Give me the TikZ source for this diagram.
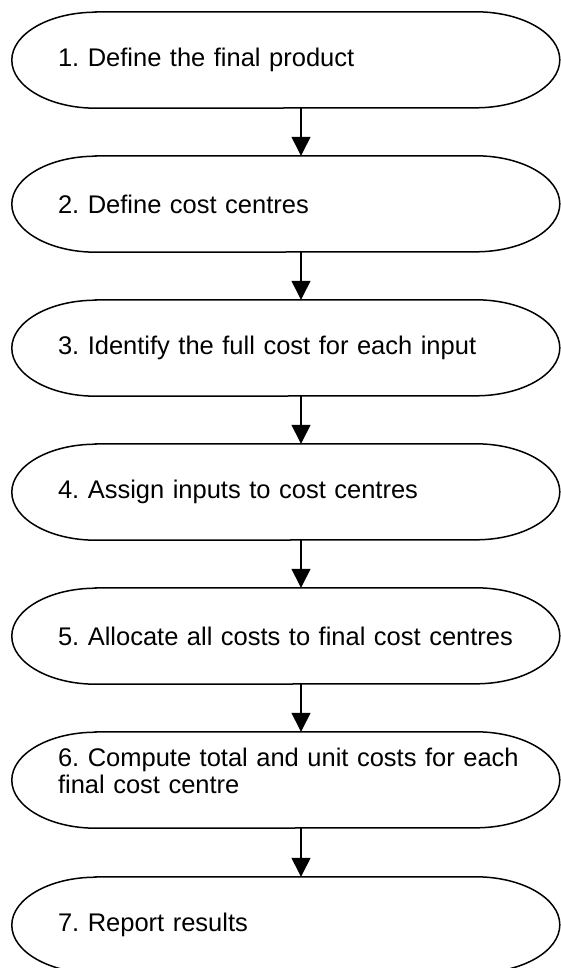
\documentclass[tikz,border=0pt]{standalone}
\usepackage{fontspec}
\setmainfont{Liberation Sans}
\usetikzlibrary{arrows.meta}
\frenchspacing

\begin{document}
\begin{tikzpicture}[x=1pt,y=1pt]
\tikzstyle{stepbox}=[rectangle,inner sep=0pt,text width=486pt,minimum height=96pt,
align=left,font=\fontsize{25.5}{27.5}\selectfont]
\tikzstyle{rim}=[line width=1.5pt]
\useasboundingbox (0,0) rectangle (561,-968);

\node[stepbox] (s1) at (301,-60) {1. Define the final product};
\node[stepbox] (s2) at (301,-204) {2. Define cost centres};
\node[stepbox] (s3) at (301,-348) {3. Identify the full cost for each input};
\node[stepbox] (s4) at (301,-492) {4. Assign inputs to cost centres};
\node[stepbox] (s5) at (301,-636) {5. Allocate all costs to final cost centres};
\node[stepbox,text height=18pt,text depth=46pt] (s6) at (301,-780) {6. Compute total and unit costs for each\\final cost centre};
\node[stepbox] (s7) at (301,-925) {7. Report results};

% flat top and bottom, half-ellipse ends
\foreach \i in {1,...,7}
  \draw[rim] ([xshift=38pt]s\i.north west) -- ([xshift=418pt]s\i.north west)
    arc[start angle=90,end angle=-90,x radius=84pt,y radius=48pt]
    -- ([xshift=38pt]s\i.south west)
    arc[start angle=270,end angle=90,x radius=84pt,y radius=48pt] -- cycle;

\tikzstyle{suite}=[-{Triangle[length=19pt,width=19pt]},line width=1.3pt]
\draw[suite] (s1) -- (s2);
\draw[suite] (s2) -- (s3);
\draw[suite] (s3) -- (s4);
\draw[suite] (s4) -- (s5);
\draw[suite] (s5) -- (s6);
\draw[suite] (s6) -- (s7);

\end{tikzpicture}
\end{document}
